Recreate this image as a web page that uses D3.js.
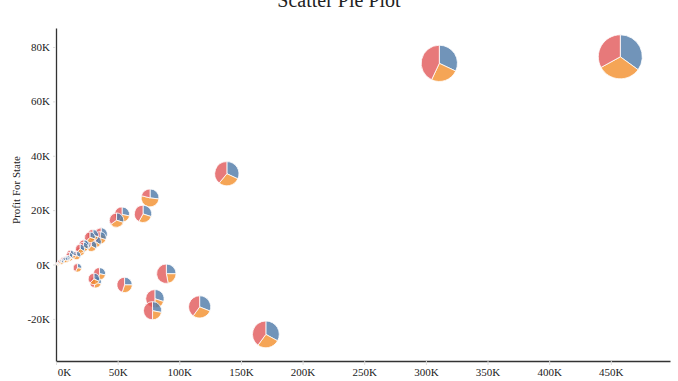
<!DOCTYPE html>
<html>
<head>
<meta charset="utf-8">
<script src="https://cdn.jsdelivr.net/npm/d3@7/dist/d3.min.js"></script>
<style>
  html, body { margin: 0; padding: 0; background: #fff; }
  svg { display: block; }
</style>
</head>
<body>
<svg id="chart" width="678" height="381"></svg>
<script>
// ---- data ----
const states = ["California","New York","Texas","Washington","Pennsylvania","Florida","Illinois","Ohio","Michigan","Virginia",
  "North Carolina","Indiana","Georgia","Kentucky","New Jersey","Arizona","Wisconsin","Colorado","Tennessee","Minnesota",
  "Massachusetts","Delaware","Maryland","Rhode Island","Missouri","Oklahoma","Alabama","Oregon","Nevada","Connecticut",
  "Arkansas","Utah","Mississippi","Louisiana","Vermont","South Carolina","Nebraska","New Hampshire","Montana","New Mexico",
  "Iowa","Idaho","Kansas","District of Columbia","Wyoming","South Dakota","Maine","West Virginia","North Dakota"];
const sales = [457700,310900,170200,138600,116500,89500,80200,78300,76300,70600,
  55600,53600,49100,36600,35800,35300,32100,32100,30700,29900,
  28600,27500,23700,22600,22200,19700,19500,17400,16700,13400,
  11700,11200,10800,9200,8900,8500,7500,7300,5600,4800,
  4600,4400,2900,2900,1600,1300,1300,1200,900];
const profit = [76400,74000,-25700,33400,-15600,-3400,-12600,-17000,24500,18600,
  -7500,18400,16300,11200,9800,-3400,8400,-6500,-5300,10800,
  6800,10000,7000,7300,6400,4900,5800,-1200,3300,3500,
  4000,2500,3200,2200,2200,1800,2000,1700,1800,1200,
  1200,800,800,1100,100,400,450,190,230];
// pie shares: blue, orange, red
const shareBlue = [0.35,0.32,0.33,0.32,0.31,0.25,0.30,0.28,0.27,0.30,
  0.25,0.28,0.30,0.33,0.30,0.28,0.34,0.30,0.32,0.30,
  0.33,0.30,0.35,0.30,0.32,0.30,0.34,0.28,0.33,0.30,
  0.32,0.30,0.35,0.30,0.33,0.30,0.32,0.30,0.33,0.32,
  0.30,0.33,0.32,0.30,0.33,0.32,0.30,0.33,0.32];
const shareOrange = [0.32,0.25,0.27,0.29,0.29,0.22,0.20,0.22,0.52,0.28,
  0.30,0.30,0.35,0.30,0.28,0.27,0.30,0.25,0.30,0.28,
  0.30,0.32,0.28,0.30,0.30,0.32,0.28,0.30,0.30,0.32,
  0.30,0.33,0.30,0.32,0.30,0.33,0.30,0.32,0.30,0.33,
  0.32,0.30,0.33,0.32,0.30,0.33,0.32,0.30,0.33];
const shareRed = shareBlue.map((b, i) => +(1 - b - shareOrange[i]).toFixed(2));
const xTicks = [0,50000,100000,150000,200000,250000,300000,350000,400000,450000];
const yTicks = [-20000,0,20000,40000,60000,80000];
const sliceColors = ["#4e79a7","#f28e2c","#e15759"];

// ---- layout ----
const svg = d3.select("#chart");
const x = d3.scaleLinear().domain([0, 498000]).range([56, 670]);
const y = d3.scaleLinear().domain([-35500, 87000]).range([361, 28]);
const r = d3.scaleSqrt().domain([0, d3.max(sales)]).range([0, 22]);
const fmtK = v => (v / 1000) + "K";

// title
svg.append("text")
  .attr("x", 339).attr("y", 7)
  .attr("text-anchor", "middle")
  .style("font-family", "'Liberation Serif', 'Times New Roman', serif")
  .style("font-size", "20px")
  .attr("fill", "#222")
  .text("Scatter Pie Plot");

// axes
const xAxis = svg.append("g").attr("transform", "translate(0,361)")
  .call(d3.axisBottom(x).tickValues(xTicks).tickFormat(fmtK).tickSizeOuter(0).tickSizeInner(4).tickPadding(3));
const yAxis = svg.append("g").attr("transform", "translate(56,0)")
  .call(d3.axisLeft(y).tickValues(yTicks).tickFormat(fmtK).tickSizeOuter(0).tickSizeInner(3).tickPadding(3));

[xAxis, yAxis].forEach(g => {
  g.select(".domain").attr("stroke", "#333").attr("stroke-width", 1.3);
  g.selectAll(".tick line").attr("stroke", "#ddd");
  g.selectAll(".tick text")
    .attr("fill", "#222")
    .style("font-family", "'Liberation Serif', 'Times New Roman', serif")
    .style("font-size", "11px");
});
xAxis.selectAll(".tick text").filter(d => d === 0).attr("dx", 8);

// y axis title
svg.append("text")
  .attr("transform", "translate(20,190) rotate(-90)")
  .attr("text-anchor", "middle")
  .style("font-family", "'Liberation Serif', 'Times New Roman', serif")
  .style("font-size", "11px")
  .attr("fill", "#222")
  .text("Profit For State");

// pies
const order = d3.range(states.length).sort((a, b) => sales[b] - sales[a]);
const pie = d3.pie().sort(null).value(d => d);
const plot = svg.append("g");
order.forEach(i => {
  const shares = [shareBlue[i], shareOrange[i], shareRed[i]];
  const arc = d3.arc().innerRadius(0).outerRadius(r(sales[i]));
  const g = plot.append("g")
    .attr("transform", `translate(${x(sales[i])},${y(profit[i])})`);
  g.selectAll("path").data(pie(shares)).join("path")
    .attr("d", arc)
    .attr("fill", (d, j) => sliceColors[j])
    .attr("fill-opacity", 0.8)
    .attr("stroke", "#fff")
    .attr("stroke-width", 0.8);
});
</script>
</body>
</html>
